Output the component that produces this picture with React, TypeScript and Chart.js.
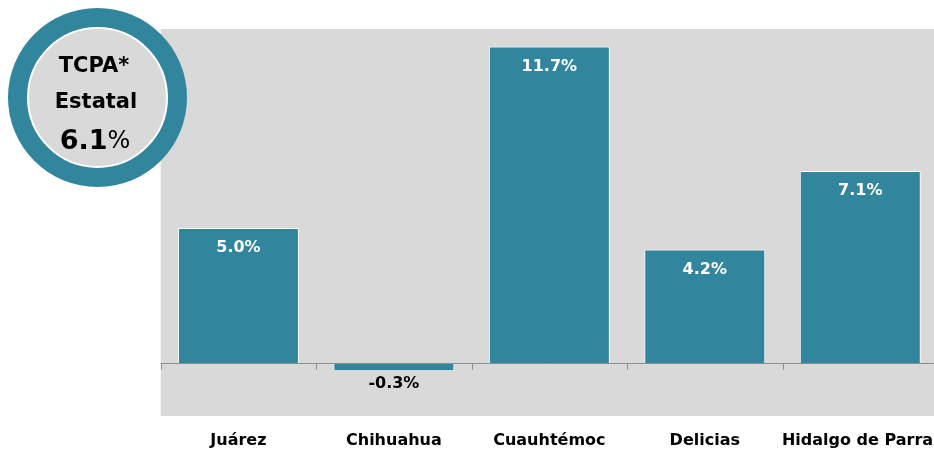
import React, { useEffect, useRef } from "react";
import { Chart, registerables } from "chart.js";

Chart.register(...registerables);

const categories = ["Juárez", "Chihuahua", "Cuauhtémoc", "Delicias", "Hidalgo de Parral"];
const values = [5.0, -0.3, 11.7, 4.2, 7.1];
const badgeLines = ["TCPA*", "Estatal"];
const stateRate = 6.1;

const TEAL = "#31859C";
const PLOT_GRAY = "#D9D9D9";
const FONT = "'DejaVu Sans', 'Liberation Sans', Arial, sans-serif";

const fmt = (v: number) => `${v.toFixed(1)}%`;

const customPlugin = {
  id: "custom",
  beforeDraw(chart: any) {
    const { ctx, chartArea: a } = chart;
    ctx.save();
    ctx.fillStyle = PLOT_GRAY;
    ctx.fillRect(a.left, a.top, a.right - a.left, a.bottom - a.top);
    ctx.restore();
  },
  afterDatasetsDraw(chart: any) {
    const { ctx, chartArea: a } = chart;
    const x = chart.scales.x;
    const y = chart.scales.y;
    const y0 = Math.round(y.getPixelForValue(0)) + 0.5;
    ctx.save();
    ctx.strokeStyle = "#8C8C8C";
    ctx.lineWidth = 1;
    ctx.beginPath();
    ctx.moveTo(a.left, y0);
    ctx.lineTo(a.right, y0);
    const n = categories.length;
    for (let i = 0; i <= n; i++) {
      let px;
      if (i === 0) px = a.left;
      else if (i === n) px = a.right;
      else px = (x.getPixelForValue(i - 1) + x.getPixelForValue(i)) / 2;
      px = Math.round(px) + 0.5;
      ctx.moveTo(px, y0);
      ctx.lineTo(px, y0 + 6);
    }
    ctx.stroke();

    // data labels
    const meta = chart.getDatasetMeta(0);
    ctx.font = `bold 16px ${FONT}`;
    ctx.textAlign = "center";
    ctx.textBaseline = "middle";
    meta.data.forEach((el: any, i: number) => {
      const v = values[i];
      if (v >= 0) {
        ctx.fillStyle = "#FFFFFF";
        ctx.fillText(fmt(v), el.x, el.y + 20);
      } else {
        ctx.fillStyle = "#000000";
        ctx.fillText(fmt(v), el.x, el.y + 12);
      }
    });

    // category labels below the plot area
    ctx.fillStyle = "#000000";
    categories.forEach((c, i) => {
      ctx.fillText(c, x.getPixelForValue(i), a.bottom + 25);
    });
    ctx.restore();
  },
  afterDraw(chart: any) {
    const { ctx } = chart;
    const cx = 97.5;
    const cy = 97.5;
    const R = 89.5;
    ctx.save();
    ctx.beginPath();
    ctx.arc(cx, cy, R, 0, Math.PI * 2);
    ctx.fillStyle = TEAL;
    ctx.fill();
    ctx.beginPath();
    ctx.arc(cx, cy, R - 20, 0, Math.PI * 2);
    ctx.fillStyle = PLOT_GRAY;
    ctx.fill();
    ctx.lineWidth = 2;
    ctx.strokeStyle = "#FFFFFF";
    ctx.stroke();

    ctx.fillStyle = "#000000";
    ctx.textAlign = "center";
    ctx.textBaseline = "middle";
    ctx.font = `bold 21px ${FONT}`;
    ctx.fillText(badgeLines[0], 94, 67);
    ctx.fillText(badgeLines[1], 96, 103);

    const num = stateRate.toFixed(1);
    ctx.font = `bold 27px ${FONT}`;
    const wNum = ctx.measureText(num).width;
    ctx.font = `24px ${FONT}`;
    const wPct = ctx.measureText("%").width;
    const startX = 95 - (wNum + wPct) / 2;
    ctx.textAlign = "left";
    ctx.font = `bold 27px ${FONT}`;
    ctx.fillText(num, startX, 142);
    ctx.font = `24px ${FONT}`;
    ctx.fillText("%", startX + wNum, 142);
    ctx.restore();
  },
};

export default function App() {
  const ref = useRef<HTMLCanvasElement | null>(null);
  useEffect(() => {
    if (!ref.current) return;
    const chart = new Chart(ref.current, {
      type: "bar",
      data: {
        labels: categories,
        datasets: [
          {
            data: values,
            backgroundColor: TEAL,
            borderColor: "#FFFFFF",
            borderWidth: 1,
            categoryPercentage: 1,
            barPercentage: 0.778,
          },
        ],
      },
      options: {
        animation: false,
        responsive: true,
        maintainAspectRatio: false,
        layout: { padding: { left: 160.7, top: 29, right: 2, bottom: 36 } },
        plugins: {
          legend: { display: false },
          tooltip: { enabled: false },
          title: { display: false },
        },
        scales: {
          x: {
            display: false,
          },
          y: {
            display: false,
            min: -1.95,
            max: 12.35,
          },
        },
      },
      plugins: [customPlugin],
    });
    return () => chart.destroy();
  }, []);
  return (
    <div style={{ position: "fixed", left: 0, top: 0, width: "940px", height: "452px" }}>
      <canvas ref={ref} />
    </div>
  );
}
